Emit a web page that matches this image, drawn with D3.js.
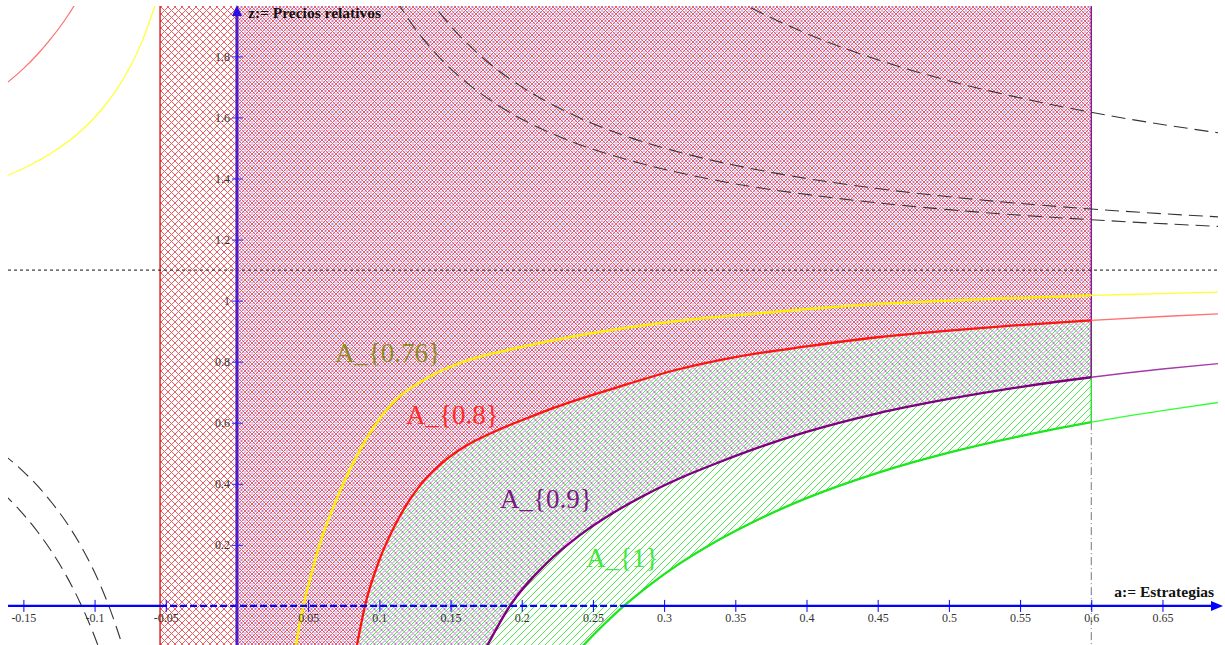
<!DOCTYPE html>
<html>
<head>
<meta charset="utf-8">
<script src="https://cdn.jsdelivr.net/npm/d3@7"></script>
<style>
body{margin:0;background:#fff}
svg{display:block}
</style>
</head>
<body>
<script>
var WIDTH = 1225, HEIGHT = 645

// [a, z] points (a:= Estrategias, z:= Precios relativos)
var curveNames = ['A_{0.76}', 'A_{0.8}', 'A_{0.9}', 'A_{1}']
var xTicks = [-0.15, -0.1, -0.05, 0.05, 0.1, 0.15, 0.2, 0.25, 0.3, 0.35, 0.4, 0.45, 0.5, 0.55, 0.6, 0.65]
var yTicks = [0.2, 0.4, 0.6, 0.8, 1, 1.2, 1.4, 1.6, 1.8]

var a076 = [[0.039,-0.2],[0.0414,-0.128],[0.0466,0],[0.052,0.1],[0.058,0.2],[0.07,0.35],[0.0887,0.53],[0.107,0.653],[0.133,0.745],[0.161,0.803],[0.19,0.838],[0.2175,0.866],[0.2947,0.925],[0.35,0.952],[0.4,0.972],[0.45,0.989],[0.5,1.0],[0.55,1.009],[0.6,1.017],[0.65,1.023],[0.69,1.028]]
var a076Left = [[-0.165,1.403],[-0.15,1.433],[-0.13,1.484],[-0.11,1.554],[-0.095,1.626],[-0.085,1.688],[-0.075,1.766],[-0.067,1.845],[-0.062,1.906],[-0.057,1.976],[-0.054,2.025]]
var a08 = [[0.0814,-0.2],[0.0843,-0.128],[0.0899,0],[0.1,0.15],[0.11,0.255],[0.12,0.338],[0.13,0.403],[0.145,0.472],[0.16,0.522],[0.1823,0.574],[0.2,0.608],[0.222,0.648],[0.2643,0.712],[0.311,0.776],[0.35,0.815],[0.4,0.85],[0.45,0.88],[0.5,0.902],[0.55,0.92],[0.6,0.935],[0.65,0.948],[0.69,0.957]]
var a08Left = [[-0.165,1.7],[-0.15,1.76],[-0.14,1.807],[-0.13,1.862],[-0.12,1.925],[-0.112,1.984],[-0.105,2.043]]
var a09 = [[0.168,-0.2],[0.176,-0.128],[0.1917,0],[0.2175,0.14],[0.2409,0.232],[0.2643,0.305],[0.2877,0.366],[0.311,0.418],[0.34,0.473],[0.367,0.52],[0.4,0.57],[0.45,0.631],[0.5,0.678],[0.55,0.717],[0.6,0.749],[0.65,0.776],[0.69,0.794]]
var a1 = [[0.23,-0.2],[0.2435,-0.128],[0.255,-0.073],[0.2718,0],[0.28,0.032],[0.29,0.069],[0.31,0.136],[0.33,0.194],[0.36,0.269],[0.4,0.353],[0.45,0.436],[0.5,0.502],[0.55,0.556],[0.6,0.602],[0.65,0.64],[0.69,0.667]]

// dashed branches
var dashTop = [[0.335,2.025],[0.3584,1.965],[0.38,1.916],[0.41,1.856],[0.45,1.789],[0.5,1.72],[0.56,1.654],[0.62,1.6],[0.69,1.549]]
var dashMid = [[0.125,2.06],[0.1387,1.965],[0.15,1.9],[0.17,1.806],[0.2,1.7],[0.23,1.622],[0.27,1.544],[0.32,1.475],[0.38,1.416],[0.45,1.367],[0.52,1.331],[0.6,1.3],[0.69,1.274]]
var dashLow = [[0.105,2.043],[0.1145,1.965],[0.125,1.892],[0.14,1.807],[0.16,1.719],[0.19,1.621],[0.23,1.53],[0.28,1.454],[0.34,1.391],[0.42,1.336],[0.5,1.298],[0.6,1.265],[0.69,1.243]]
var dashLeftOuter = [[-0.165,0.5],[-0.15,0.44],[-0.14,0.393],[-0.13,0.338],[-0.12,0.275],[-0.11,0.2],[-0.1,0.11],[-0.095,0.058],[-0.09,0],[-0.085,-0.065],[-0.0806,-0.128],[-0.0762,-0.2]]
var dashLeftInner = [[-0.165,0.373],[-0.15,0.3],[-0.14,0.243],[-0.13,0.177],[-0.12,0.1],[-0.11,0.009],[-0.105,-0.043],[-0.1,-0.1],[-0.0923,-0.2]]

var asymptote = 1.1
var regionLeft = -0.054, regionRight = 0.6

var x = d3.scaleLinear().domain([-0.1608, 0.689]).range([8, 1218])
var y = d3.scaleLinear().domain([-0.128, 1.965]).range([645, 6])

var svg = d3.select('body').append('svg')
	.attr('width', WIDTH)
	.attr('height', HEIGHT)

var defs = svg.append('defs')

function hatch(id, color, dirs, op, shift){
	var p = defs.append('pattern')
		.attr('id', id)
		.attr('patternUnits', 'userSpaceOnUse')
		.attr('width', 7)
		.attr('height', 7)
	if(shift) p.attr('patternTransform', 'translate(' + shift + ',0)')
	var d = 'M0,7L7,0M-1,1L1,-1M6,8L8,6'
	if(dirs == 'x') d += 'M0,0L7,7M-1,6L1,8M6,-1L8,1'
	p.append('path').attr('d', d)
		.attr('fill', 'none')
		.attr('stroke', color)
		.attr('stroke-width', 1)
		.attr('opacity', op)
		.attr('shape-rendering', 'crispEdges')
}
hatch('hRed', '#e8343a', 'x', 0.8, 0)
hatch('hPurple', '#962aa4', 'x', 0.6, 3.5)
hatch('hGreen', '#44e844', '/', 0.95, 0)

defs.append('clipPath').attr('id', 'plot')
	.append('rect').attr('x', 8).attr('y', 6).attr('width', 1210).attr('height', 639)
defs.append('clipPath').attr('id', 'inside')
	.append('rect').attr('x', x(regionLeft)).attr('y', 0).attr('width', x(regionRight) - x(regionLeft)).attr('height', HEIGHT)

var line = d3.line()
	.x(function(d){ return x(d[0]) })
	.y(function(d){ return y(d[1]) })
	.curve(d3.curveMonotoneX)

function inRegion(pts){
	return pts.filter(function(d){ return d[0] <= regionRight + 1e-9 })
}
function valAt(pts, a){
	return pts.filter(function(d){ return Math.abs(d[0] - a) < 1e-9 })[0][1]
}
function pt(a, z){ return x(a) + ',' + y(z) }

var topZ = 2.2, botZ = -0.3

var belowRed = line(inRegion(a08)) + 'L' + pt(regionRight, botZ) + 'Z'
defs.append('clipPath').attr('id', 'belowRed')
	.append('path').attr('d', belowRed)

var g = svg.append('g').attr('clip-path', 'url(#plot)')

// regions: purple under red, green on top
g.append('path')
	.attr('d', line(inRegion(a09)) + 'L' + pt(regionRight, topZ) + 'L' + pt(0, topZ) + 'L' + pt(0, botZ) + 'Z')
	.attr('fill', 'url(#hPurple)')
g.append('path')
	.attr('d', line(inRegion(a08)) + 'L' + pt(regionRight, topZ) + 'L' + pt(regionLeft, topZ) + 'L' + pt(regionLeft, botZ) + 'Z')
	.attr('fill', 'url(#hRed)')
g.append('g').attr('clip-path', 'url(#belowRed)')
	.append('path')
	.attr('d', line(inRegion(a1)) + 'L' + pt(regionRight, topZ) + 'L' + pt(-0.2, topZ) + 'L' + pt(-0.2, botZ) + 'Z')
	.attr('fill', 'url(#hGreen)')

// region edges
g.append('line')
	.attr('x1', x(regionLeft)).attr('x2', x(regionLeft))
	.attr('y1', y(topZ)).attr('y2', y(botZ))
	.attr('stroke', '#d42a2a').attr('stroke-width', 1.5)
g.append('line')
	.attr('x1', x(regionRight)).attr('x2', x(regionRight))
	.attr('y1', y(valAt(a1, regionRight))).attr('y2', y(botZ))
	.attr('stroke', '#777').attr('stroke-width', 1).attr('stroke-dasharray', '8,3,1,3')
g.append('line')
	.attr('x1', x(regionRight)).attr('x2', x(regionRight))
	.attr('y1', y(valAt(a08, regionRight))).attr('y2', y(valAt(a1, regionRight)))
	.attr('stroke', '#2ee02e').attr('stroke-width', 1.5)
g.append('line')
	.attr('x1', x(regionRight)).attr('x2', x(regionRight))
	.attr('y1', y(topZ)).attr('y2', y(valAt(a09, regionRight)))
	.attr('stroke', '#8a1a90').attr('stroke-width', 1.5)

// asymptote
g.append('line')
	.attr('x1', 8).attr('x2', 1218)
	.attr('y1', y(asymptote)).attr('y2', y(asymptote))
	.attr('stroke', '#111').attr('stroke-width', 1).attr('stroke-dasharray', '3,3')

// dashed branches
;[dashTop, dashMid, dashLow, dashLeftOuter, dashLeftInner].forEach(function(pts){
	g.append('path').attr('d', line(pts))
		.attr('fill', 'none')
		.attr('stroke', '#333')
		.attr('stroke-width', 1.1)
		.attr('stroke-dasharray', '14,7')
})

// curves
var curves = [
	{pts: a076, left: a076Left, thin: '#ffff30', thick: '#ffee00'},
	{pts: a08, left: a08Left, thin: '#ff7070', thick: '#ff1414'},
	{pts: a09, left: null, thin: '#a33aa8', thick: '#800080'},
	{pts: a1, left: null, thin: '#33ff33', thick: '#1ee61e'}
]
curves.forEach(function(c){
	g.append('path').attr('d', line(c.pts))
		.attr('fill', 'none').attr('stroke', c.thin).attr('stroke-width', 1.3)
	if(c.left) g.append('path').attr('d', line(c.left))
		.attr('fill', 'none').attr('stroke', c.thin).attr('stroke-width', 1.2)
	g.append('g').attr('clip-path', 'url(#inside)')
		.append('path').attr('d', line(c.pts))
		.attr('fill', 'none').attr('stroke', c.thick).attr('stroke-width', 2.3)
})

// x axis
var x0 = x(regionLeft), xg = x(valAt(a1.map(function(d){ return [d[1], d[0]] }), 0))
svg.append('line').attr('x1', 8).attr('x2', x0).attr('y1', y(0)).attr('y2', y(0))
	.attr('stroke', '#0000ff').attr('stroke-width', 2.2)
svg.append('line').attr('x1', x0).attr('x2', xg).attr('y1', y(0)).attr('y2', y(0))
	.attr('stroke', '#0000ff').attr('stroke-width', 2.2).attr('stroke-dasharray', '7,3')
svg.append('line').attr('x1', xg).attr('x2', 1214).attr('y1', y(0)).attr('y2', y(0))
	.attr('stroke', '#0000ff').attr('stroke-width', 2.2)
svg.append('path')
	.attr('d', 'M1223,' + y(0) + 'L1211,' + (y(0) - 5) + 'L1211,' + (y(0) + 5) + 'Z')
	.attr('fill', '#0000ff')

var xAxis = svg.append('g')
	.attr('transform', 'translate(0,' + y(0) + ')')
	.call(d3.axisBottom(x).tickValues(xTicks).tickSize(6).tickPadding(2)
		.tickFormat(function(d){ return String(d) }))
xAxis.select('.domain').remove()
xAxis.selectAll('.tick line').attr('y1', -6).attr('stroke', '#0000ff')
xAxis.selectAll('.tick text')
	.attr('fill', '#333')
	.style('font-family', '"Liberation Serif", serif')
	.style('font-size', '12px')

// y axis
svg.append('line').attr('x1', x(0)).attr('x2', x(0)).attr('y1', 645).attr('y2', 13)
	.attr('stroke', '#4a1ccc').attr('stroke-width', 3)
svg.append('path')
	.attr('d', 'M' + x(0) + ',5L' + (x(0) - 5) + ',16L' + (x(0) + 5) + ',16Z')
	.attr('fill', '#2a10e0')

var yAxis = svg.append('g')
	.attr('transform', 'translate(' + x(0) + ',0)')
	.call(d3.axisLeft(y).tickValues(yTicks).tickSize(5).tickPadding(2)
		.tickFormat(function(d){ return String(d) }))
yAxis.select('.domain').remove()
yAxis.selectAll('.tick line').attr('x1', 6).attr('stroke', '#2222ff')
yAxis.selectAll('.tick text')
	.attr('fill', '#333')
	.style('font-family', '"Liberation Serif", serif')
	.style('font-size', '12px')

// axis titles
svg.append('text')
	.attr('x', 248).attr('y', 18)
	.style('font-family', '"Liberation Serif", serif')
	.style('font-size', '15.5px').style('font-weight', 'bold')
	.attr('fill', '#111')
	.text('z:= Precios relativos')
svg.append('text')
	.attr('x', 1214).attr('y', 597)
	.attr('text-anchor', 'end')
	.style('font-family', '"Liberation Serif", serif')
	.style('font-size', '15.5px').style('font-weight', 'bold')
	.attr('fill', '#111')
	.text('a:= Estrategias')

// curve labels
var labelPos = [[0.0688, 0.799], [0.1187, 0.596], [0.1847, 0.321], [0.2451, 0.128]]
var labelColor = ['#8c8a2a', '#ff2a2a', '#7a1a80', '#3ee83e']
svg.selectAll('.clabel').data(curveNames)
	.enter().append('text')
	.classed('clabel', true)
	.attr('x', function(d, i){ return x(labelPos[i][0]) })
	.attr('y', function(d, i){ return y(labelPos[i][1]) })
	.attr('fill', function(d, i){ return labelColor[i] })
	.style('font-family', '"Liberation Serif", serif')
	.style('font-size', '27px')
	.text(function(d){ return d })
</script>
</body>
</html>
